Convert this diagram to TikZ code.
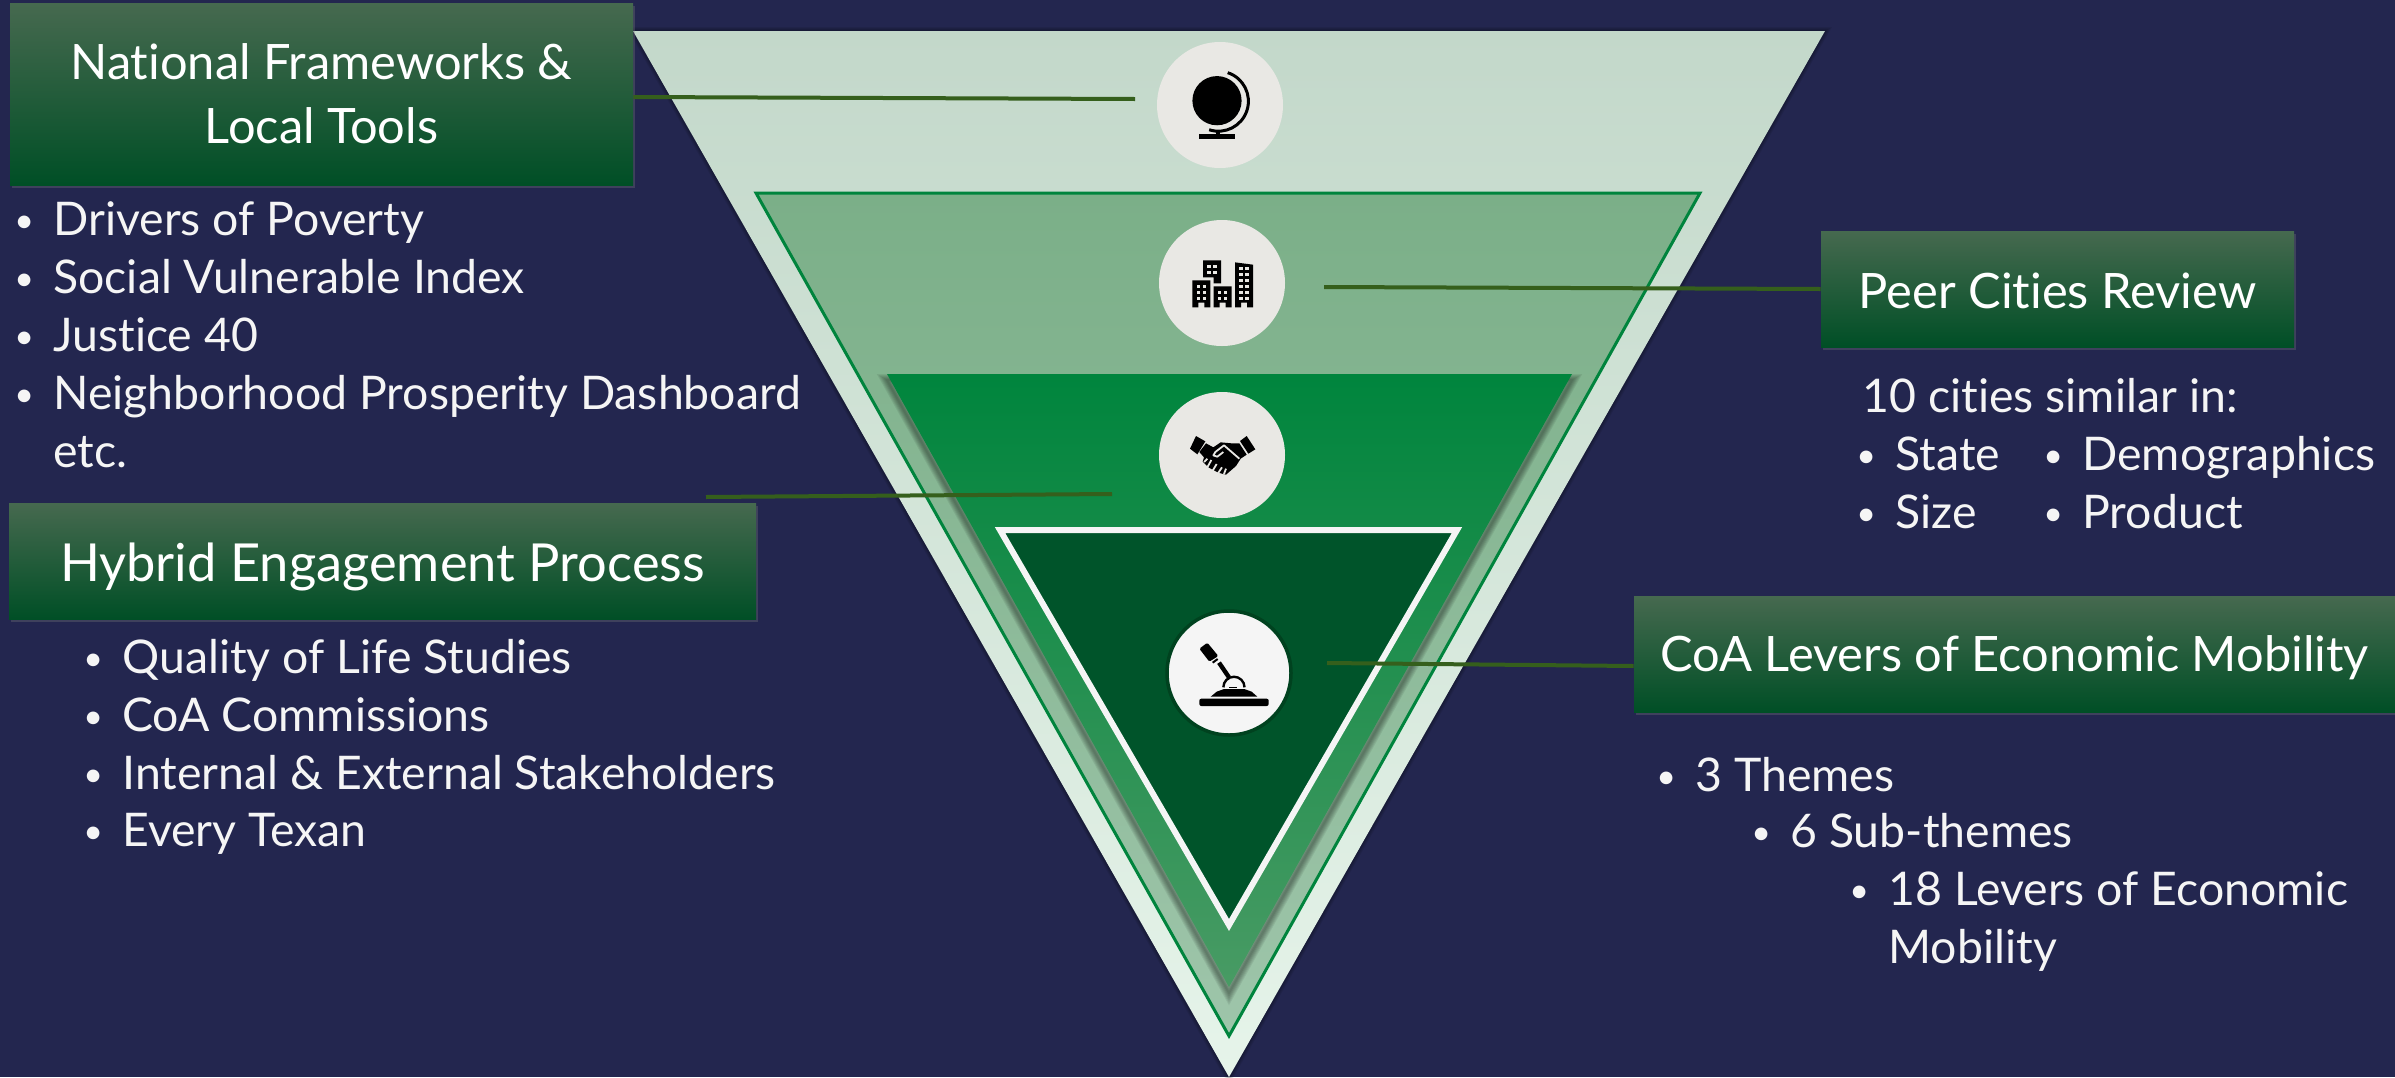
\documentclass[tikz,border=0pt]{standalone}
\usepackage{fontspec}
\setmainfont{Lato}[Ligatures=NoCommon]
\usetikzlibrary{shadows,positioning}
\definecolor{pagebg}{HTML}{23264F}
\definecolor{leadline}{HTML}{355F1C}
\definecolor{triedge}{HTML}{00843D}
\definecolor{discgrey}{HTML}{E9E8E4}
\definecolor{boxtop}{HTML}{46694F}
\definecolor{boxmid}{HTML}{02552A}
\definecolor{boxlow}{HTML}{004F26}
\newcommand{\bul}[1]{\makebox[19.5pt][l]{\raisebox{1.4pt}{\fontsize{17}{17}\selectfont\textbullet}}#1}
\newcommand{\midtri}{(887,374)--(1572,374)--(1229,987)--cycle}
\tikzset{
  headbox/.style={
    rectangle,inner sep=0pt,align=center,text=white,
    top color=boxtop,middle color=boxmid,bottom color=boxlow,
    font=\fontsize{24.4}{32}\selectfont,
    drop shadow={shadow xshift=1pt,shadow yshift=-1.5pt,opacity=.3}
  },
  listline/.style={
    anchor=base west,inner sep=0pt,text=white!96!black,
    font=\fontsize{23.2}{29}\selectfont
  },
  icondisc/.style={circle,fill=discgrey,minimum size=63pt,inner sep=0pt},
  lead/.style={leadline,line width=2pt},
  iconzoom/.style={shift={#1},x=0.16667pt,y=-0.16667pt}
}
\begin{document}
\begin{tikzpicture}[x=0.5pt,y=-0.5pt]
\fill[pagebg] (0,0) rectangle (2395,1077);
\useasboundingbox (0,0) rectangle (2395,1077);

% funnel
\foreach \w in {1,2,3,4}
  \draw[black,opacity=.08,line width=\w pt] (633,31)--(1825,31)--(1229,1077)--cycle;
\shade[top color={rgb,255:red,195;green,216;blue,202},bottom color={rgb,255:red,230;green,244;blue,234}]
  (633,31)--(1825,31)--(1229,1077)--cycle;
\shade[top color={rgb,255:red,123;green,175;blue,136},bottom color={rgb,255:red,158;green,197;blue,170},draw=triedge,line width=1.5pt]
  (756,193)--(1700,193)--(1229,1036)--cycle;
\begin{scope}
\clip (756,193)--(1700,193)--(1229,1036)--cycle;
\foreach \w in {1,2,...,6}
  \draw[black,opacity=.07,line width=\w pt,yshift=-3pt] \midtri;
\end{scope}
\shade[top color={rgb,255:red,0;green,133;blue,61},middle color={rgb,255:red,0;green,134;blue,62},bottom color={rgb,255:red,72;green,155;blue,100}]
  \midtri;
\draw[fill={rgb,255:red,0;green,84;blue,42},draw=white!96!black,line width=3pt,miter limit=10]
  (1000,530)--(1457,530)--(1229,925)--cycle;

% discs
\node[icondisc] (globedisc) at (1220,105) {};
\node[icondisc] (citydisc) at (1222,283) {};
\node[icondisc] (handdisc) at (1222,455) {};
\node[circle,fill=white!96!black,draw={rgb,255:red,0;green,66;blue,31},line width=1.75pt,minimum size=62pt,inner sep=0pt] (leverdisc) at (1229,673) {};

% globe
\begin{scope}[iconzoom={(1050,0)}]
\fill (501,302) circle[radius=12.3pt];
\draw[line width=1.5pt] (533,218) arc[start angle=72,end angle=-108,radius=15pt];
\draw[line width=2pt] (505,390)--(505,405);
\fill (446,403) rectangle (556,417);
\end{scope}

% buildings
\begin{scope}[iconzoom={(1050,0)}]
\fill (459,781)--(513,781)--(513,850)--(491,850)--(491,832)--(459,832)--cycle;
\fill (427,841)--(481,841)--(481,922)--(463,922)--(463,908)--(445,908)--(445,922)--(427,922)--cycle;
\fill (491,859)--(545,859)--(545,922)--(527,922)--(527,908)--(509,908)--(509,922)--(491,922)--cycle;
\fill (555,787)--(609,794)--(609,922)--(591,922)--(591,908)--(573,908)--(573,922)--(555,922)--cycle;
\foreach \wx in {477,495} \foreach \wy in {800,818}
  \fill[discgrey] (\wx-5,\wy-5) rectangle (\wx+5,\wy+5);
\foreach \wx in {445,463} \foreach \wy in {859,877,895}
  \fill[discgrey] (\wx-5,\wy-5) rectangle (\wx+5,\wy+5);
\foreach \wx in {509,527} \foreach \wy in {877,895}
  \fill[discgrey] (\wx-5,\wy-5) rectangle (\wx+5,\wy+5);
\foreach \wx in {573,591} \foreach \wy in {805,823,841,859,877,895}
  \fill[discgrey] (\wx-5,\wy-5) rectangle (\wx+5,\wy+5);
\end{scope}

% handshake
\begin{scope}[iconzoom={(1050,360)}]
\fill (438,228)--(466,244)--(442,283)--(420,266)--cycle;
\fill (590,228)--(616,268)--(595,281)--(570,243)--cycle;
\fill (468,250)--(490,262)--(512,247)--(545,250)--(568,250)--(590,284)--(572,296)--(558,318)--(528,344)--(505,338)--(475,322)--(458,305)--(462,292)--(448,276)--cycle;
\draw[discgrey,line width=.9pt,line join=round] (568,296)--(522,256)--(496,276)--(490,286)--(502,290)--(520,276);
\draw[discgrey,line width=.9pt] (472,296)--(462,306) (484,300)--(472,322) (500,312)--(488,332) (516,322)--(504,340) (528,326)--(522,342);
\end{scope}

% lever
\begin{scope}[iconzoom={(1050,360)}]
\fill[rounded corners=1pt] (448,1016) rectangle (656,1038);
\fill (482,1010)--(500,995)--(522,987)--(583,987)--(605,995)--(622,1010)--cycle;
\draw[line width=1.2pt] (520,982) arc[start angle=180,end angle=0,radius=5.3pt];
\fill[white!96!black] (530,985) arc[start angle=180,end angle=0,radius=3.5pt]--cycle;
\draw[line width=.8pt] (538,983)--(562,983);
\draw[line width=2.2pt] (537,952)--(507,908);
\fill[rounded corners=.7pt] (472,848)--(505,888)--(478,905)--(448,866)--cycle;
\draw[line width=1pt] (488,908)--(503,897);
\end{scope}

% leaders run under the boxes
\coordinate (globeend) at (1135,99);
\coordinate (cityend) at (1324,287);
\coordinate (handstart) at (706,497);
\coordinate (handend) at (1112,494);
\coordinate (leverend) at (1327,663);

\node[headbox,minimum width=311.5pt,minimum height=91pt] (frameworks) at (321.5,94) {National Frameworks \&\\Local Tools};
\node[headbox,minimum width=373.5pt,minimum height=58pt,font=\fontsize{26.2}{32}\selectfont,text height=25pt,text depth=5pt] (hybrid) at (382.5,561) {Hybrid Engagement Process};
\node[headbox,minimum width=236.5pt,minimum height=58pt,text height=19.5pt,text depth=0pt] (peers) at (2057.5,289) {Peer Cities Review};
\node[headbox,minimum width=380.5pt,minimum height=58pt,text height=22.6pt,text depth=5pt] (levers) at (2014.5,654) {CoA Levers of Economic Mobility};

\draw[lead] (frameworks.east|-0,97) -- (globeend);
\draw[lead] (cityend) -- (peers.west);
\draw[lead] (handstart) -- (handend);
\draw[lead] (leverend) -- (levers.west|-0,666);

% lists
\foreach \lbl [count=\i] in {Drivers of Poverty,Social Vulnerable Index,Justice 40,Neighborhood Prosperity Dashboard}
  \node[listline] (drivers\i) at (14,{235.5+58*(\i-1)}) {\bul{\lbl}};
\node[listline] (driversmore) at (53,467.5) {etc.};

\foreach \lbl/\ypos [count=\i] in {Quality of Life Studies/673.5,CoA Commissions/731.5,Internal \& External Stakeholders/789.5,Every Texan/846.5}
  \node[listline] (engage\i) at (83,\ypos) {\bul{\lbl}};

\node[listline] (similar) at (1862,412.5) {10 cities similar in:};
\node[listline] (state) at (1856,470.5) {\bul{State}};
\node[listline] (size) at (1856,528.5) {\bul{Size}};
\node[listline] (demog) at (2043,470.5) {\bul{Demographics}};
\node[listline] (product) at (2043,528.5) {\bul{Product}};

\node[listline] (themes) at (1656,791.5) {\bul{3 Themes}};
\node[listline] (subthemes) at (1751,847.5) {\bul{6 Sub-themes}};
\node[listline] (leverlist) at (1849,905.5) {\bul{18 Levers of Economic}};
\node[listline] (mobility) at (1888,963.5) {Mobility};
\end{tikzpicture}
\end{document}
